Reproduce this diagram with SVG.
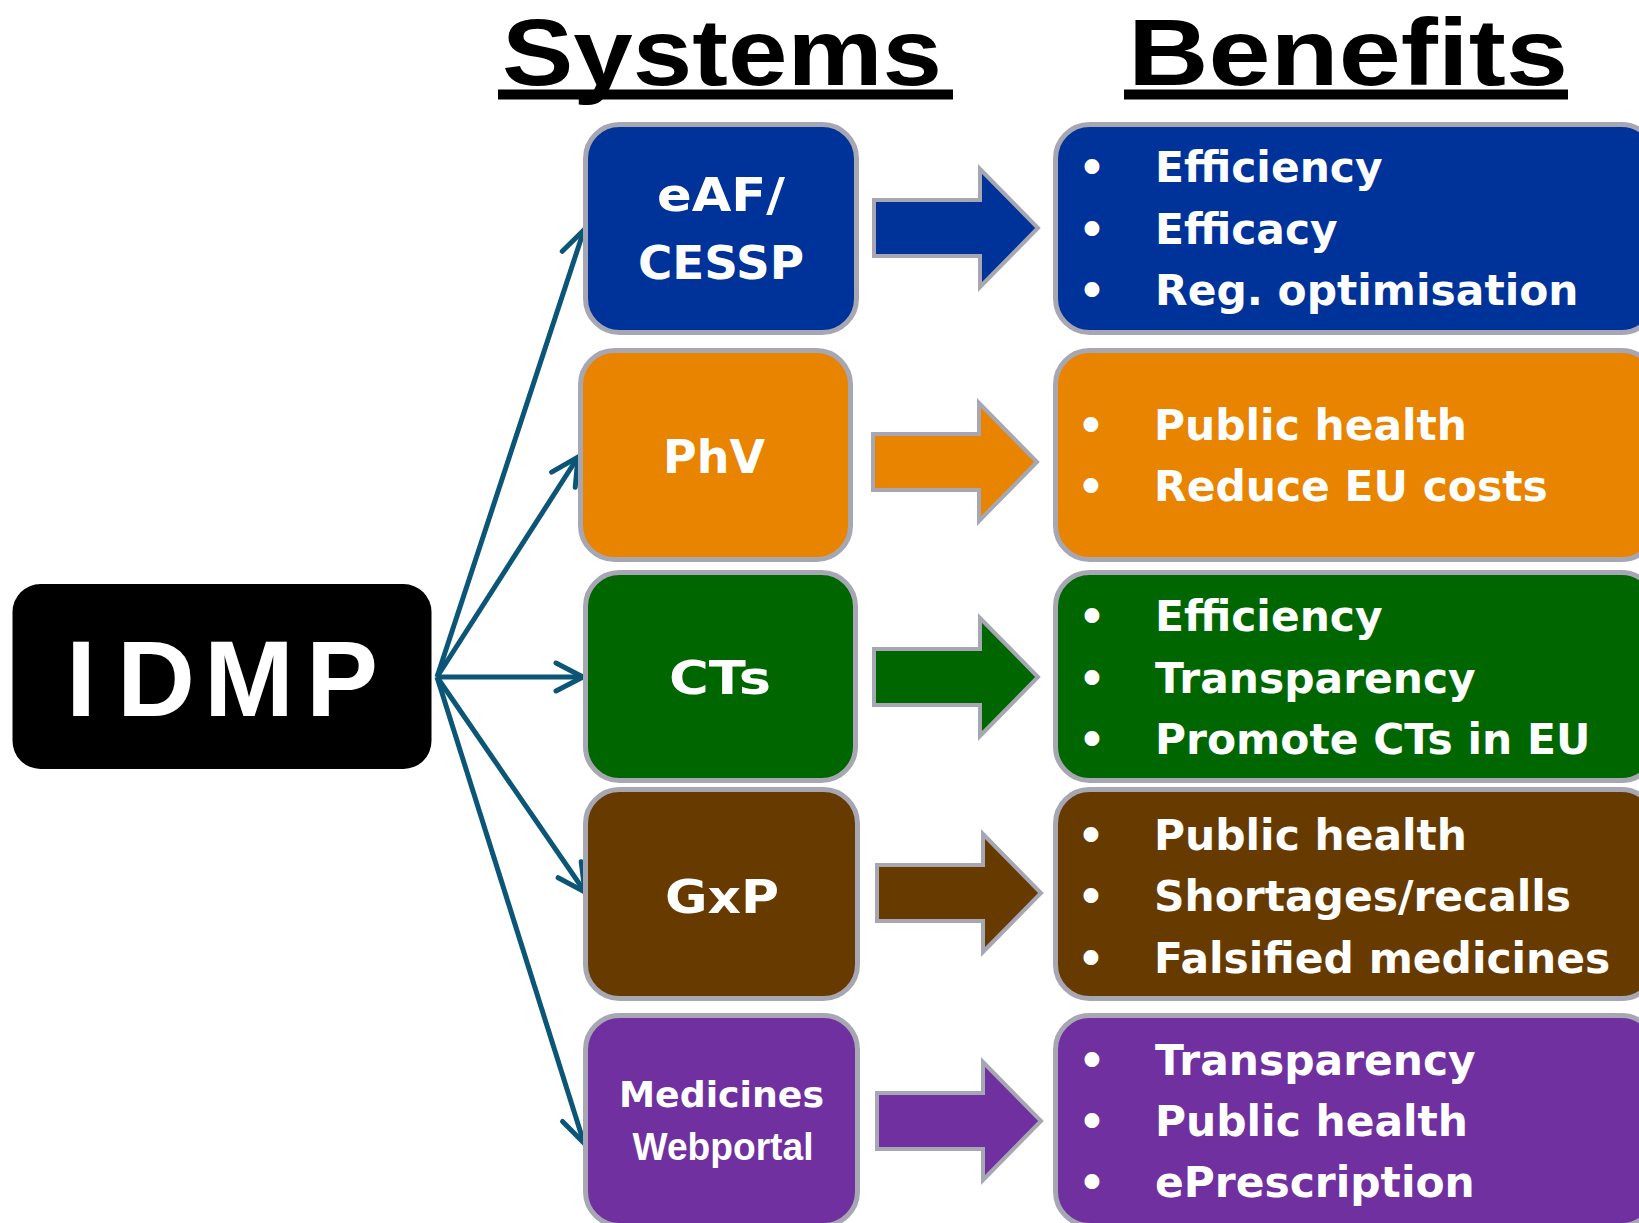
<svg xmlns="http://www.w3.org/2000/svg" width="1639" height="1223" viewBox="0 0 1639 1223">
  <style>
    .title { font-family: "Liberation Sans", Arial, sans-serif; font-weight: bold; font-size: 94px; fill: #000; }
    .sys { stroke: #A6A7B3; stroke-width: 5; }
    .ben { stroke: #A6A7B3; stroke-width: 5; }
    .blk { stroke: #A6A7B3; stroke-width: 4; }
    .lbl { font-family: "DejaVu Sans", Verdana, sans-serif; font-weight: bold; font-size: 47px; fill: #fff; text-anchor: middle; }
    .bt { font-family: "DejaVu Sans", Verdana, sans-serif; font-weight: bold; font-size: 42.4px; fill: #fff; }
    .bul { font-family: "DejaVu Sans", Verdana, sans-serif; font-weight: bold; font-size: 42px; fill: #fff; text-anchor: middle; }
    .blue { fill: #003399; }
    .orange { fill: #E88400; }
    .green { fill: #006600; }
    .brown { fill: #673B00; }
    .purple { fill: #7030A0; }
    .conn { stroke: #0B5577; stroke-width: 5; fill: none; marker-end: url(#open); }
  </style>
  <defs>
    <marker id="open" markerUnits="userSpaceOnUse" markerWidth="36" markerHeight="36" viewBox="0 0 36 36" refX="31" refY="18" orient="auto">
      <path d="M 4 4 L 31 18 L 4 32" fill="none" stroke="#0B5577" stroke-width="5" stroke-linecap="round" stroke-linejoin="miter"/>
    </marker>
    <path id="barrow" d="M 0 -28 H 106 V -59 L 164 0 L 106 59 V 28 H 0 Z"/>
  </defs>

  <rect width="1639" height="1223" fill="#fff"/>

  <g id="titles">
    <text class="title" x="502" y="85" textLength="440" lengthAdjust="spacingAndGlyphs">Systems</text>
    <rect x="498" y="89.5" width="455" height="10" fill="#000"/>
    <text class="title" x="1128" y="85" textLength="440" lengthAdjust="spacingAndGlyphs">Benefits</text>
    <rect x="1124" y="89.5" width="444" height="10" fill="#000"/>
  </g>

  <g id="connectors">
    <line class="conn" x1="437" y1="677" x2="584" y2="230"/>
    <line class="conn" x1="437" y1="677" x2="578" y2="457"/>
    <line class="conn" x1="437" y1="677" x2="583" y2="677"/>
    <line class="conn" x1="437" y1="677" x2="585" y2="892"/>
    <line class="conn" x1="437" y1="677" x2="584" y2="1143"/>
  </g>

  <g id="node-idmp">
    <rect x="12.5" y="584" width="419" height="185" rx="28" fill="#000"/>
    <text x="66 117 204 306" y="716" font-family="Liberation Sans, Arial, sans-serif" font-weight="bold" font-size="108" fill="#fff">IDMP</text>
  </g>

  <g id="node-eaf">
    <rect class="sys blue" x="585.5" y="124.5" width="271" height="208" rx="34"/>
    <text class="lbl" x="721" y="211" textLength="128" lengthAdjust="spacingAndGlyphs">eAF/</text>
    <text class="lbl" x="721" y="279" textLength="166" lengthAdjust="spacingAndGlyphs">CESSP</text>
  </g>
  <g id="node-phv">
    <rect class="sys orange" x="580.5" y="350.5" width="270" height="209" rx="34"/>
    <text class="lbl" x="714" y="473" textLength="102" lengthAdjust="spacingAndGlyphs">PhV</text>
  </g>
  <g id="node-cts">
    <rect class="sys green" x="585.5" y="572.5" width="270" height="208" rx="34"/>
    <text class="lbl" x="720" y="694" textLength="102" lengthAdjust="spacingAndGlyphs">CTs</text>
  </g>
  <g id="node-gxp">
    <rect class="sys brown" x="585.5" y="789.5" width="272" height="209" rx="34"/>
    <text class="lbl" x="722" y="913" textLength="114" lengthAdjust="spacingAndGlyphs">GxP</text>
  </g>
  <g id="node-medicines">
    <rect class="sys purple" x="585.5" y="1015.5" width="272" height="210" rx="34"/>
    <text class="lbl" x="721.5" y="1107" style="font-size:36px" textLength="205" lengthAdjust="spacingAndGlyphs">Medicines</text>
    <text x="723" y="1160" text-anchor="middle" font-family="Liberation Sans, Arial, sans-serif" font-weight="bold" font-size="38" fill="#fff" textLength="181" lengthAdjust="spacingAndGlyphs">Webportal</text>
  </g>

  <g id="block-arrows">
    <use href="#barrow" class="blk blue" transform="translate(874,228)"/>
    <use href="#barrow" class="blk orange" transform="translate(873,462)"/>
    <use href="#barrow" class="blk green" transform="translate(874,677)"/>
    <use href="#barrow" class="blk brown" transform="translate(877,893)"/>
    <use href="#barrow" class="blk purple" transform="translate(877,1121)"/>
  </g>

  <g id="benefit-eaf">
    <rect class="ben blue" x="1055.5" y="124.5" width="600" height="208" rx="34"/>
    <text class="bul" x="1092" y="182">•</text>
    <text class="bul" x="1092" y="243.5">•</text>
    <text class="bul" x="1092" y="305">•</text>
    <text class="bt" x="1155" y="182">Efficiency</text>
    <text class="bt" x="1155" y="243.5">Efficacy</text>
    <text class="bt" x="1155" y="305">Reg. optimisation</text>
  </g>
  <g id="benefit-phv">
    <rect class="ben orange" x="1055.5" y="350.5" width="600" height="209" rx="34"/>
    <text class="bul" x="1091" y="440">•</text>
    <text class="bul" x="1091" y="501">•</text>
    <text class="bt" x="1154" y="440">Public health</text>
    <text class="bt" x="1154" y="501">Reduce EU costs</text>
  </g>
  <g id="benefit-cts">
    <rect class="ben green" x="1055.5" y="572.5" width="600" height="208" rx="34"/>
    <text class="bul" x="1092" y="631">•</text>
    <text class="bul" x="1092" y="692.5">•</text>
    <text class="bul" x="1092" y="754">•</text>
    <text class="bt" x="1155" y="631">Efficiency</text>
    <text class="bt" x="1155" y="692.5">Transparency</text>
    <text class="bt" x="1155" y="754">Promote CTs in EU</text>
  </g>
  <g id="benefit-gxp">
    <rect class="ben brown" x="1055.5" y="789.5" width="600" height="209" rx="34"/>
    <text class="bul" x="1091" y="849.5">•</text>
    <text class="bul" x="1091" y="911">•</text>
    <text class="bul" x="1091" y="972.5">•</text>
    <text class="bt" x="1154" y="849.5">Public health</text>
    <text class="bt" x="1154" y="911">Shortages/recalls</text>
    <text class="bt" x="1154" y="972.5">Falsified medicines</text>
  </g>
  <g id="benefit-medicines">
    <rect class="ben purple" x="1055.5" y="1015.5" width="600" height="210" rx="34"/>
    <text class="bul" x="1092" y="1075">•</text>
    <text class="bul" x="1092" y="1136">•</text>
    <text class="bul" x="1092" y="1197">•</text>
    <text class="bt" x="1155" y="1075">Transparency</text>
    <text class="bt" x="1155" y="1136">Public health</text>
    <text class="bt" x="1155" y="1197">ePrescription</text>
  </g>
</svg>
